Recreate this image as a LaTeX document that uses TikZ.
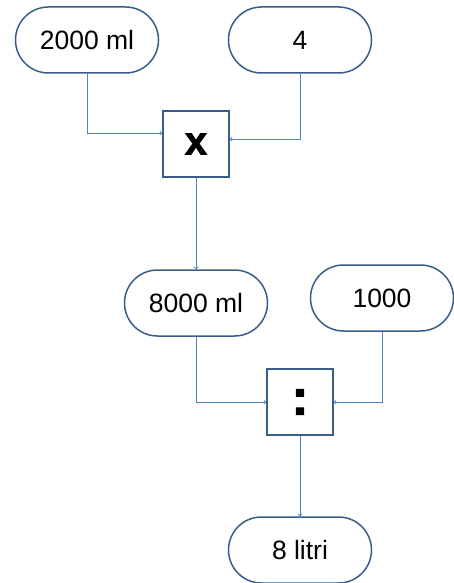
\documentclass[tikz,border=0pt]{standalone}
\usepackage{fontspec}
\setmainfont{Liberation Sans}
\usepackage{xcolor}
\usepackage{tikz}
\usetikzlibrary{arrows}

\definecolor{pillblue}{RGB}{56,93,138}
\definecolor{lineblue}{RGB}{79,129,189}

\begin{document}
\begin{tikzpicture}[x=1pt,y=-1pt]
	\useasboundingbox (0,0) rectangle (454,583);
	\tikzstyle{every node}=[draw=pillblue,line width=1.5pt,shape=rectangle,rounded corners=33pt,
		minimum width=143pt,minimum height=66pt,font=\fontsize{26.5}{30}\selectfont];
	\node (ml2000) at ( 87, 40) {2000 ml};
	\node (four)   at (300, 40) {4};
	\node (ml8000) at (196,303) {8000 ml};
	\node (thou)   at (382,298) {1000};
	\node (litri)  at (300,550) {8 litri};
	\tikzstyle{every node}=[draw=pillblue,line width=1.5pt,shape=rectangle,
		minimum width=66pt,minimum height=66pt];
	\node[font=\fontsize{40}{40}\selectfont\bfseries\addfontfeature{FakeBold=2}] (mul) at (196,144) {x};
	\node[font=\fontsize{50}{50}\selectfont\bfseries\addfontfeature{FakeBold=2}] (dvd) at (300,402) {:};
	\tikzstyle{every path}=[draw=lineblue,line width=0.8pt,->,>=to];
	\draw (ml2000.south) |- ([yshift=11pt]mul.west);
	\draw (four.south)   |- ([yshift=5pt]mul.east);
	\draw (mul.south)    -- (ml8000.north);
	\draw (ml8000.south) |- (dvd.west);
	\draw (thou.south)   |- (dvd.east);
	\draw (dvd.south)    -- (litri.north);
\end{tikzpicture}
\end{document}
